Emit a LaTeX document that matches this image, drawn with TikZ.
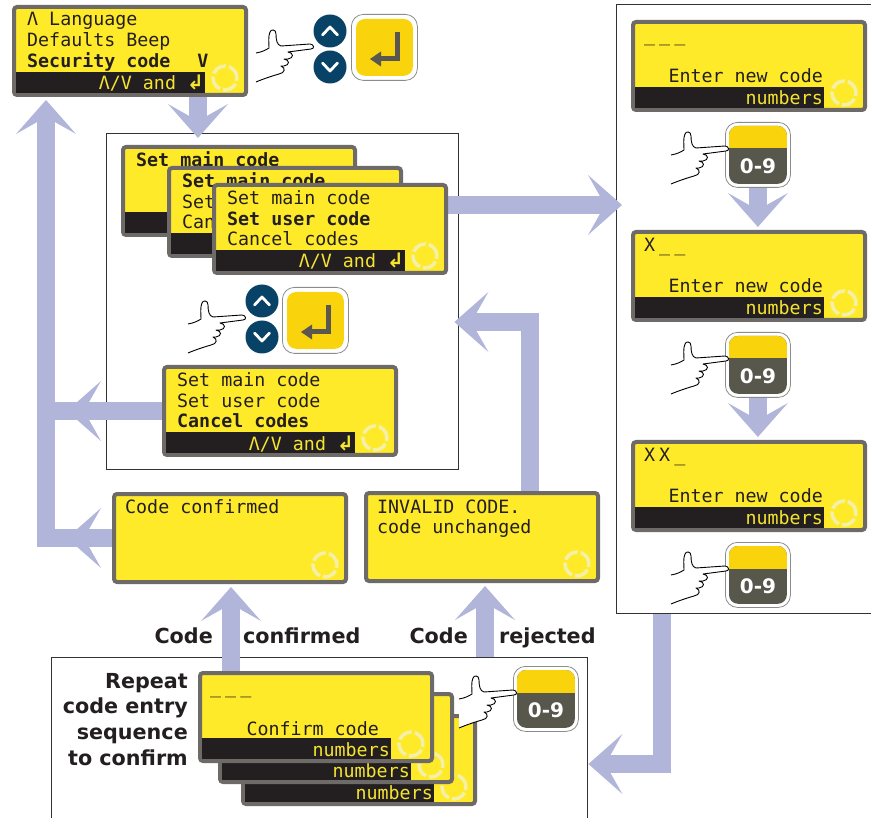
\documentclass[tikz,border=0pt]{standalone}
\usepackage{fontspec}
\setsansfont{DejaVu Sans}
\setmonofont{DejaVu Sans Mono}
\newfontfamily\symbolfont{DejaVu Sans}
\newfontfamily\codefont[LetterSpace=22]{DejaVu Sans Mono}
\usetikzlibrary{arrows.meta,calc,positioning,backgrounds}

\definecolor{flowblue}{RGB}{177,181,217}
\definecolor{lcdyellow}{RGB}{255,234,42}
\definecolor{lcdgray}{RGB}{110,106,103}
\definecolor{lcdblack}{RGB}{35,31,32}
\definecolor{bartext}{RGB}{245,228,48}
\definecolor{ringc}{RGB}{244,240,168}
\definecolor{btnblue}{RGB}{8,66,102}
\definecolor{btnyellow}{RGB}{249,211,12}
\definecolor{keydark}{RGB}{88,87,76}
\definecolor{inkgray}{RGB}{90,87,80}

\newcommand\lcdfont{\ttfamily\fontsize{18.3}{21}\selectfont}
\newcommand\labelfont{\sffamily\bfseries\fontsize{20.7}{25.7}\selectfont}
\newcommand\enterglyph{{\symbolfont\bfseries\fontsize{20}{20}\selectfont ↲}}

\tikzset{
  lcd/.style={draw=lcdgray, line width=4pt, fill=lcdyellow, rounded corners=3pt,
    minimum width=232pt, minimum height=88pt, inner sep=0pt, anchor=north west},
  lcdtxt/.style={inner sep=0pt, anchor=base west, font=\lcdfont, text=lcdblack},
  bartxt/.style={inner sep=0pt, anchor=base east, font=\lcdfont, text=bartext},
  ring/.style={draw=ringc, line width=3.5pt, dash pattern=on 15pt off 3pt},
  boxframe/.style={draw=black!80, line width=1.4pt, inner sep=0pt, anchor=north west},
  flow/.style={draw=flowblue, line width=18pt,
    -{Stealth[length=34pt,width=60pt,inset=17pt,line width=0pt]}},
  flowstem/.style={draw=flowblue, line width=18pt},
  arrowlabel/.style={inner sep=0pt, font=\labelfont, text=lcdblack},
  keyframe/.style={draw=black!45, fill=white, line width=0.8pt, rounded corners=12pt,
    minimum size=66pt, inner sep=0pt, anchor=north west},
  roundbtn/.style={circle, fill=btnblue, minimum size=33pt, inner sep=0pt},
  chevron/.style={draw=white, line width=2.8pt, line join=round, line cap=round},
  returnarrow/.style={draw=inkgray, line width=5pt,
    -{Triangle[length=11pt,width=15pt,line width=0pt]}},
  keytxt/.style={inner sep=0pt, text=white, font=\sffamily\bfseries\fontsize{20}{20}\selectfont},
  hand/.pic={
    \filldraw[fill=white, draw=black, line width=0.9pt, line join=round]
      (-58,5) .. controls (-52,4) and (-48,2) .. (-45,0)
      .. controls (-45,-5) and (-46,-12) .. (-44,-16)
      .. controls (-43,-19) and (-38,-19) .. (-38,-14)
      .. controls (-38,-8) and (-37,-3) .. (-33,-2)
      -- (-4,-4) .. controls (0,-4) and (1,1) .. (-3,1)
      -- (-26,4)
      .. controls (-20,5) and (-20,10) .. (-26,11) -- (-30,11)
      .. controls (-24,12) and (-24,17) .. (-30,18) -- (-33,18)
      .. controls (-28,20) and (-29,25) .. (-35,26)
      .. controls (-42,28) and (-51,31) .. (-58,34);
  }
}

% screen with black bar: name, x, y, bar text
\newcommand\lcdscreen[4]{%
  \node[lcd] (#1) at (#2,#3) {};
  \fill[lcdblack] ($(#1.north west)+(4,67)$) rectangle ($(#1.north west)+(193,88)$);
  \node[bartxt] (#1-bar) at ($(#1.north west)+(192,85)$) {#4};
  \draw[ring] ($(#1.north west)+(213,73)$) circle (12pt);
}
% screen without bar: name, x, y
\newcommand\lcdpanel[3]{%
  \node[lcd] (#1) at (#2,#3) {};
  \draw[ring] ($(#1.north west)+(213,73)$) circle (12pt);
}
% one text line: name, screen, dx, dy, text
\newcommand\lcdline[5]{%
  \node[lcdtxt] (#1) at ($(#2.north west)+(#3,#4)$) {#5};
}
% enter key: name, x, y
\newcommand\enterkey[3]{%
  \node[keyframe] (#1) at (#2,#3) {};
  \fill[btnyellow, rounded corners=9pt] ($(#1.north west)+(5,5)$) rectangle ($(#1.south east)+(-5,-5)$);
  \draw[returnarrow] ($(#1.north west)+(46,18)$) -- ++(0,27) -- ++(-27,0);
}
% up and down buttons: name, x, y of the up button
\newcommand\updown[3]{%
  \node[roundbtn] (#1-up) at (#2,#3) {};
  \node[roundbtn] (#1-down) at (#2,#3+36) {};
  \draw[chevron] ($(#1-up)+(-7.5,4)$) -- ($(#1-up)+(0,-4)$) -- ($(#1-up)+(7.5,4)$);
  \draw[chevron] ($(#1-down)+(-7.5,-4)$) -- ($(#1-down)+(0,4)$) -- ($(#1-down)+(7.5,-4)$);
}
% 0-9 key: name, x, y
\newcommand\numkey[3]{%
  \node[keyframe, minimum size=65pt] (#1) at (#2,#3) {};
  \fill[keydark, rounded corners=9pt] ($(#1.north west)+(4,4)$) rectangle ($(#1.south east)+(-4,-4)$);
  \begin{scope}
    \clip ($(#1.north west)$) rectangle ($(#1.north east)+(0,26)$);
    \fill[btnyellow, rounded corners=9pt] ($(#1.north west)+(4,4)$) rectangle ($(#1.south east)+(-4,-4)$);
  \end{scope}
  \node[keytxt] (#1-txt) at ($(#1.center)+(0,11)$) {0-9};
}

\begin{document}
\begin{tikzpicture}[x=1pt, y=-1pt]
    \useasboundingbox (0,0) rectangle (871,818);

    % screens
    \lcdscreen{s1}{12}{5}{Λ/V and \enterglyph}
    \lcdline{s1-a}{s1}{15}{21}{Λ Language}
    \lcdline{s1-b}{s1}{15}{42}{Defaults Beep}
    \lcdline{s1-c}{s1}{15}{63}{\bfseries Security code~~\hspace{5pt}V}

    \lcdscreen{seta}{121}{145}{}
    \lcdline{seta-a}{seta}{15}{22}{\bfseries Set main code}
    \lcdscreen{setb}{167}{166}{}
    \lcdline{setb-a}{setb}{15}{22}{\bfseries Set main code}
    \lcdline{setb-b}{setb}{15}{42.5}{Set}
    \lcdline{setb-c}{setb}{15}{63}{Can}
    \lcdscreen{setuser}{212}{183}{Λ/V and \enterglyph}
    \lcdline{setuser-a}{setuser}{15}{22}{Set main code}
    \lcdline{setuser-b}{setuser}{15}{42.5}{\bfseries Set user code}
    \lcdline{setuser-c}{setuser}{15}{63}{Cancel codes}

    \lcdscreen{cancel}{162}{365}{Λ/V and \enterglyph}
    \lcdline{cancel-a}{cancel}{15}{22}{Set main code}
    \lcdline{cancel-b}{cancel}{15}{42.5}{Set user code}
    \lcdline{cancel-c}{cancel}{15}{63}{\bfseries Cancel codes}

    \lcdpanel{confirmed}{112}{492}
    \lcdline{confirmed-a}{confirmed}{13}{22}{Code confirmed}
    \lcdpanel{invalid}{364}{491}
    \lcdline{invalid-a}{invalid}{13}{22}{INVALID CODE.}
    \lcdline{invalid-b}{invalid}{13}{42.5}{code unchanged}

    \lcdscreen{code1}{631}{20}{numbers}
    \lcdline{code1-a}{code1}{13}{22}{\codefont\_\_\_}
    \node[lcdtxt, anchor=base east] (code1-b) at ($(code1.north west)+(192,63)$) {Enter new code};
    \lcdscreen{code2}{631}{230}{numbers}
    \lcdline{code2-a}{code2}{13}{22}{\codefont X\_\_}
    \node[lcdtxt, anchor=base east] (code2-b) at ($(code2.north west)+(192,63)$) {Enter new code};
    \lcdscreen{code3}{631}{440}{numbers}
    \lcdline{code3-a}{code3}{13}{22}{\codefont XX\_}
    \node[lcdtxt, anchor=base east] (code3-b) at ($(code3.north west)+(192,63)$) {Enter new code};

    \lcdscreen{rep3}{241}{714}{numbers}
    \lcdscreen{rep2}{218}{692}{numbers}
    \lcdscreen{rep1}{198}{671}{numbers}
    \lcdline{rep1-a}{rep1}{12}{22}{\codefont\_\_\_}
    \node[lcdtxt, anchor=base east] (rep1-b) at ($(rep1.north west)+(181,64)$) {Confirm code};

    % keys and hands
    \enterkey{s1enter}{351}{14}
    \updown{s1btn}{330}{31}
    \pic (s1hand) at (314,48) {hand};

    \enterkey{menuenter}{282}{287}
    \updown{menubtn}{262}{301}
    \pic (menuhand) at (246,319) {hand};

    \numkey{key1}{725}{122}
    \numkey{key2}{725}{332}
    \numkey{key3}{725}{542}
    \numkey{key4}{513}{666}
    \pic (hand1) at (729,150) {hand};
    \pic (hand2) at (729,360) {hand};
    \pic (hand3) at (729,570) {hand};
    \pic (hand4) at (517,694) {hand};

    % boxes and flow arrows, behind the screens
    \begin{scope}[on background layer]
    \node[boxframe, minimum width=352pt, minimum height=336pt] (menu) at (106,133) {};
    \node[boxframe, minimum width=256pt, minimum height=609pt] (entry) at (616,4) {};
    \node[boxframe, minimum width=536pt, minimum height=200pt] (confirm) at (51,657) {};

    \coordinate (spine) at (46,0);
    \coordinate (headL) at (67,0);
    \coordinate (laneS) at (198,0);
    \coordinate (laneC) at (231,0);
    \coordinate (laneJ) at (485,0);
    \coordinate (laneI) at (530,322);
    \coordinate (laneR) at (662,764);
    \coordinate (outC) at ([yshift=24pt]setuser.east);

    \draw[flow, shorten >=-5pt] (s1.south -| laneS) -- (menu.north -| laneS);
    \draw[flow, shorten >=3pt] (confirmed.west) -- (confirmed.west -| spine) -- (s1.south -| spine);
    \draw[flow] (confirmed.west) -- (confirmed.west -| headL);
    \draw[flowstem] (cancel.west) -- (cancel.west -| spine);
    \draw[flow] (cancel.west) -- (cancel.west -| headL);
    \draw[flow, shorten >=-6pt] (outC) -- (outC -| entry.west);
    \draw[flow, shorten >=3pt] (key1.south) -- (key1.south |- code2.north);
    \draw[flow, shorten >=3pt] (key2.south) -- (key2.south |- code3.north);
    \draw[flow] (entry.south -| laneR) -- (laneR) -- (laneR -| confirm.east);
    \draw[flow, shorten >=-5pt] (invalid.north -| laneI) -- (laneI) -- (laneI -| menu.east);
    \draw[flow, shorten >=3pt] (rep1.north -| laneC) -- (confirmed.south -| laneC);
    \draw[flow, shorten >=3pt] (confirm.north -| laneJ) -- (invalid.south -| laneJ);
    \end{scope}

    % labels
    \node[arrowlabel, anchor=base east] (codeA) at (213,643) {Code};
    \node[arrowlabel, anchor=base west] (confirmedA) at (243,643) {confirmed};
    \node[arrowlabel, anchor=base east] (codeB) at (468,643) {Code};
    \node[arrowlabel, anchor=base west] (rejectedB) at (499,643) {rejected};
    \node[arrowlabel, anchor=north east, align=right] (repeat) at (188,673)
        {Repeat\\code entry\\sequence\\to confirm};
\end{tikzpicture}
\end{document}
